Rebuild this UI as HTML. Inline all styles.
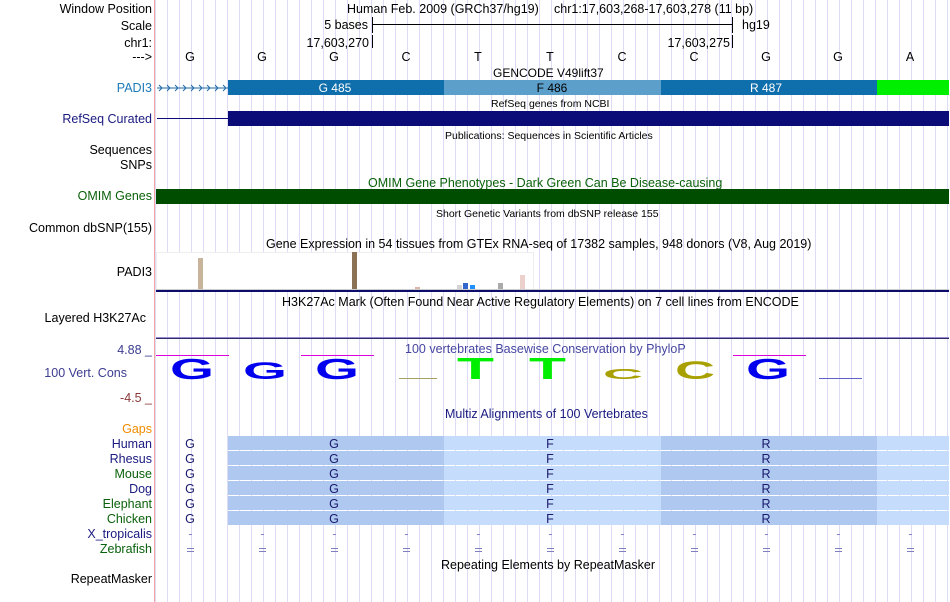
<!DOCTYPE html>
<html><head><meta charset="utf-8"><style>
html,body{margin:0;padding:0;background:#fff}
svg{display:block}
text{font-family:"Liberation Sans",sans-serif}
</style></head><body>
<svg width="950" height="602" viewBox="0 0 950 602" xmlns="http://www.w3.org/2000/svg">
<defs>
<pattern id="grid" x="167" y="0" width="12" height="602" patternUnits="userSpaceOnUse">
<rect x="0" y="0" width="1" height="602" fill="#dcdcf6"/>
</pattern>
</defs>
<rect x="155" y="0" width="795" height="602" fill="url(#grid)"/>
<rect x="154" y="0" width="1" height="602" fill="#f4a4a4"/>

<!-- labels -->
<g font-size="12.5" text-anchor="end" fill="#000">
<text x="152" y="13">Window Position</text>
<text x="152" y="30">Scale</text>
<text x="152" y="47">chr1:</text>
<text x="152" y="61">---&gt;</text>
<text x="152" y="92" fill="#1e7ab8">PADI3</text>
<text x="152" y="123" fill="#1a1a80">RefSeq Curated</text>
<text x="152" y="154">Sequences</text>
<text x="152" y="169">SNPs</text>
<text x="152" y="200" fill="#0b610b">OMIM Genes</text>
<text x="152" y="232">Common dbSNP(155)</text>
<text x="152" y="276">PADI3</text>
<text x="146" y="322">Layered H3K27Ac</text>
<text x="152" y="354" fill="#3c3c90">4.88 _</text>
<text x="127" y="377" fill="#3c3c90">100 Vert. Cons</text>
<text x="152" y="402" fill="#8b3a3a">-4.5 _</text>
<text x="152" y="433" fill="#f08c00">Gaps</text>
<text x="152" y="448" fill="#1a1a80">Human</text>
<text x="152" y="463" fill="#1a1a80">Rhesus</text>
<text x="152" y="478" fill="#0b610b">Mouse</text>
<text x="152" y="493" fill="#1a1a80">Dog</text>
<text x="152" y="508" fill="#0b610b">Elephant</text>
<text x="152" y="523" fill="#0b610b">Chicken</text>
<text x="152" y="538" fill="#1a1a80">X_tropicalis</text>
<text x="152" y="553" fill="#0b610b">Zebrafish</text>
<text x="152" y="583">RepeatMasker</text>
</g>

<!-- header -->
<g font-size="12.5" fill="#000">
<text x="347" y="13">Human Feb. 2009 (GRCh37/hg19)</text>
<text x="554" y="13">chr1:17,603,268-17,603,278 (11 bp)</text>
<text x="368" y="29" text-anchor="end">5 bases</text>
<rect x="372" y="17" width="1" height="16" fill="#000"/>
<rect x="372" y="24" width="361" height="1" fill="#000"/>
<rect x="732" y="17" width="1" height="16" fill="#000"/>
<text x="742" y="29">hg19</text>
<text x="369" y="47" text-anchor="end">17,603,270</text>
<rect x="372" y="35" width="1" height="13" fill="#000"/>
<text x="730" y="47" text-anchor="end">17,603,275</text>
<rect x="732" y="35" width="1" height="13" fill="#000"/>
</g>
<g font-size="12.5" text-anchor="middle">
<text x="190" y="61">G</text><text x="262" y="61">G</text><text x="334" y="61">G</text>
<text x="406" y="61">C</text><text x="478" y="61">T</text><text x="550" y="61">T</text>
<text x="622" y="61">C</text><text x="694" y="61">C</text><text x="766" y="61">G</text>
<text x="838" y="61">G</text><text x="910" y="61">A</text>
</g>

<!-- GENCODE -->
<text x="493" y="77" font-size="12">GENCODE V49lift37</text>
<g stroke="#1e6aa8" fill="none" stroke-width="1">
<line x1="157" y1="88" x2="228" y2="88"/>
<path d="M159 85l3 3l-3 3M167 85l3 3l-3 3M175 85l3 3l-3 3M183 85l3 3l-3 3M191 85l3 3l-3 3M199 85l3 3l-3 3M207 85l3 3l-3 3M215 85l3 3l-3 3M223 85l3 3l-3 3"/>
</g>
<rect x="228" y="80" width="216" height="15" fill="#0f6eac"/>
<rect x="444" y="80" width="217" height="15" fill="#5d9fcb"/>
<rect x="661" y="80" width="216" height="15" fill="#0f6eac"/>
<rect x="877" y="80" width="72" height="15" fill="#00ee00"/>
<g font-size="12" text-anchor="middle" fill="#fff">
<text x="335" y="92">G 485</text><text x="766" y="92">R 487</text>
</g>
<text x="552" y="92" font-size="12" text-anchor="middle" fill="#000">F 486</text>

<!-- RefSeq -->
<text x="491" y="107" font-size="10.5">RefSeq genes from NCBI</text>
<rect x="157" y="118" width="71" height="1" fill="#0c0c78"/>
<rect x="228" y="111" width="721" height="15" fill="#0c0c78"/>
<text x="445" y="139" font-size="10.5">Publications: Sequences in Scientific Articles</text>

<!-- OMIM -->
<text x="368" y="187" font-size="12.5" fill="#0b610b">OMIM Gene Phenotypes - Dark Green Can Be Disease-causing</text>
<rect x="156" y="189" width="793" height="15" fill="#004d00"/>
<text x="436" y="217" font-size="10.5">Short Genetic Variants from dbSNP release 155</text>

<!-- GTEx -->
<text x="266" y="248" font-size="12.5">Gene Expression in 54 tissues from GTEx RNA-seq of 17382 samples, 948 donors (V8, Aug 2019)</text>
<rect x="156.5" y="252.5" width="377" height="37" fill="#fff" stroke="#eeeeee"/>
<rect x="198" y="258" width="5" height="31" fill="#c8b49a"/>
<rect x="352" y="252" width="5" height="37" fill="#8b7254"/>
<rect x="415" y="287" width="5" height="2" fill="#d9b8a8"/>
<rect x="457" y="285" width="5" height="4" fill="#d4d4d4"/>
<rect x="463" y="283" width="5" height="6" fill="#3366cc"/>
<rect x="470" y="285" width="5" height="4" fill="#1e90ff"/>
<rect x="498" y="283" width="5" height="6" fill="#aaaaaa"/>
<rect x="520" y="275" width="5" height="14" fill="#ecd0cc"/>
<rect x="156" y="289" width="793" height="1" fill="#cccccc"/>
<rect x="156" y="290" width="793" height="2" fill="#0c0c6c"/>

<!-- H3K27Ac -->
<text x="282" y="306" font-size="12.5">H3K27Ac Mark (Often Found Near Active Regulatory Elements) on 7 cell lines from ENCODE</text>
<rect x="156" y="337" width="793" height="1" fill="#9b8bd0"/>
<rect x="156" y="338" width="793" height="1" fill="#2c2c6c"/>

<!-- Conservation -->
<text x="405" y="353" font-size="12.5" fill="#4646a0">100 vertebrates Basewise Conservation by PhyloP</text>
<g fill="#dd00dd">
<rect x="156" y="355" width="73" height="1"/><rect x="301" y="355" width="73" height="1"/><rect x="733" y="355" width="73" height="1"/>
</g>
<g font-weight="bold" font-family="Liberation Sans,sans-serif" lengthAdjust="spacingAndGlyphs">
<text x="170" y="379" font-size="29" textLength="44" lengthAdjust="spacingAndGlyphs" fill="#0000ee">G</text>
<text x="243" y="379" font-size="24" textLength="44" lengthAdjust="spacingAndGlyphs" fill="#0000ee">G</text>
<text x="315" y="379" font-size="29" textLength="44" lengthAdjust="spacingAndGlyphs" fill="#0000ee">G</text>
<text x="457" y="379" font-size="31" textLength="37" lengthAdjust="spacingAndGlyphs" fill="#00ee00">T</text>
<text x="529" y="379" font-size="31" textLength="37" lengthAdjust="spacingAndGlyphs" fill="#00ee00">T</text>
<text x="603" y="379" font-size="15" textLength="40" lengthAdjust="spacingAndGlyphs" fill="#a8a000">C</text>
<text x="675" y="379" font-size="25" textLength="40" lengthAdjust="spacingAndGlyphs" fill="#a8a000">C</text>
<text x="746" y="379" font-size="29" textLength="44" lengthAdjust="spacingAndGlyphs" fill="#0000ee">G</text>
</g>
<rect x="399" y="378" width="38" height="1" fill="#a8a060"/>
<rect x="819" y="378" width="43" height="1" fill="#6060c8"/>

<!-- Multiz -->
<text x="445" y="418" font-size="12.5" fill="#1a1a80">Multiz Alignments of 100 Vertebrates</text>
<g>
<rect x="228" y="436" width="216" height="14" fill="#aec8f0"/><rect x="444" y="436" width="217" height="14" fill="#c6dcfc"/><rect x="661" y="436" width="216" height="14" fill="#aec8f0"/><rect x="877" y="436" width="72" height="14" fill="#c6dcfc"/>
<rect x="228" y="451" width="216" height="14" fill="#aec8f0"/><rect x="444" y="451" width="217" height="14" fill="#c6dcfc"/><rect x="661" y="451" width="216" height="14" fill="#aec8f0"/><rect x="877" y="451" width="72" height="14" fill="#c6dcfc"/>
<rect x="228" y="466" width="216" height="14" fill="#aec8f0"/><rect x="444" y="466" width="217" height="14" fill="#c6dcfc"/><rect x="661" y="466" width="216" height="14" fill="#aec8f0"/><rect x="877" y="466" width="72" height="14" fill="#c6dcfc"/>
<rect x="228" y="481" width="216" height="14" fill="#aec8f0"/><rect x="444" y="481" width="217" height="14" fill="#c6dcfc"/><rect x="661" y="481" width="216" height="14" fill="#aec8f0"/><rect x="877" y="481" width="72" height="14" fill="#c6dcfc"/>
<rect x="228" y="496" width="216" height="14" fill="#aec8f0"/><rect x="444" y="496" width="217" height="14" fill="#c6dcfc"/><rect x="661" y="496" width="216" height="14" fill="#aec8f0"/><rect x="877" y="496" width="72" height="14" fill="#c6dcfc"/>
<rect x="228" y="511" width="216" height="14" fill="#aec8f0"/><rect x="444" y="511" width="217" height="14" fill="#c6dcfc"/><rect x="661" y="511" width="216" height="14" fill="#aec8f0"/><rect x="877" y="511" width="72" height="14" fill="#c6dcfc"/>
</g>
<g font-size="12.5" text-anchor="middle" fill="#1a1a6c">
<text x="190" y="448">G</text><text x="334" y="448">G</text><text x="550" y="448">F</text><text x="766" y="448">R</text>
<text x="190" y="463">G</text><text x="334" y="463">G</text><text x="550" y="463">F</text><text x="766" y="463">R</text>
<text x="190" y="478">G</text><text x="334" y="478">G</text><text x="550" y="478">F</text><text x="766" y="478">R</text>
<text x="190" y="493">G</text><text x="334" y="493">G</text><text x="550" y="493">F</text><text x="766" y="493">R</text>
<text x="190" y="508">G</text><text x="334" y="508">G</text><text x="550" y="508">F</text><text x="766" y="508">R</text>
<text x="190" y="523">G</text><text x="334" y="523">G</text><text x="550" y="523">F</text><text x="766" y="523">R</text>
</g>
<g fill="#8080c0">
<rect x="189" y="534" width="3" height="1"/><rect x="261" y="534" width="3" height="1"/><rect x="333" y="534" width="3" height="1"/><rect x="405" y="534" width="3" height="1"/><rect x="477" y="534" width="3" height="1"/><rect x="549" y="534" width="3" height="1"/><rect x="621" y="534" width="3" height="1"/><rect x="693" y="534" width="3" height="1"/><rect x="765" y="534" width="3" height="1"/><rect x="837" y="534" width="3" height="1"/><rect x="909" y="534" width="3" height="1"/>
<rect x="187" y="548" width="7" height="1"/><rect x="259" y="548" width="7" height="1"/><rect x="331" y="548" width="7" height="1"/><rect x="403" y="548" width="7" height="1"/><rect x="475" y="548" width="7" height="1"/><rect x="547" y="548" width="7" height="1"/><rect x="619" y="548" width="7" height="1"/><rect x="691" y="548" width="7" height="1"/><rect x="763" y="548" width="7" height="1"/><rect x="835" y="548" width="7" height="1"/><rect x="907" y="548" width="7" height="1"/>
<rect x="187" y="551" width="7" height="1"/><rect x="259" y="551" width="7" height="1"/><rect x="331" y="551" width="7" height="1"/><rect x="403" y="551" width="7" height="1"/><rect x="475" y="551" width="7" height="1"/><rect x="547" y="551" width="7" height="1"/><rect x="619" y="551" width="7" height="1"/><rect x="691" y="551" width="7" height="1"/><rect x="763" y="551" width="7" height="1"/><rect x="835" y="551" width="7" height="1"/><rect x="907" y="551" width="7" height="1"/>
</g>
<text x="441" y="569" font-size="12.5">Repeating Elements by RepeatMasker</text>
</svg>
</body></html>
